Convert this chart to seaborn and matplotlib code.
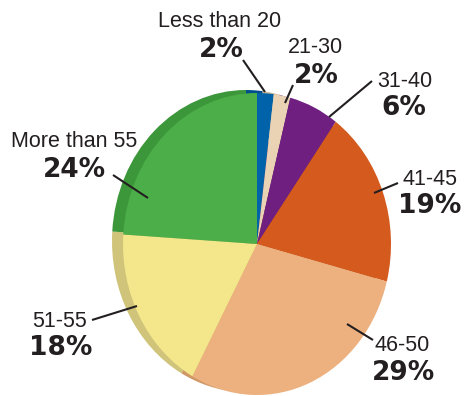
import matplotlib
matplotlib.use("Agg")
import matplotlib.pyplot as plt
import seaborn as sns
import numpy as np

# ---- data ----
categories = ["Less than 20", "21-30", "31-40", "41-45", "46-50", "51-55", "More than 55"]
shares = [2, 2, 6, 19, 29, 18, 24]
pct_labels = ["2%", "2%", "6%", "19%", "29%", "18%", "24%"]

face_colors = ["#0062A9", "#E9D3B4", "#6F1F80", "#D45A1E", "#EDB07F", "#F3E68B", "#4CAE48"]
rim_colors = ["#004F8A", "#CDB898", "#5A1868", "#B04A18", "#CF9866", "#CFC47A", "#3C963A"]

sns.set_theme(style="white")
plt.rcParams["font.family"] = ["DejaVu Sans"]

W, H = 465, 396
fig = plt.figure(figsize=(W / 100, H / 100), dpi=100)
ax = fig.add_axes([0, 0, 1, 1])

# pie face geometry in pixels
cx, cy, rx, ry = 257, 244, 134, 151


def px(x, y):
    return ((x - cx) / rx, (cy - y) / ry)


# rim (darker, slightly offset) drawn behind the face
ax.pie(shares, colors=rim_colors, startangle=90, counterclock=False,
       center=(-11 / rx, 3 / ry), radius=1.0,
       wedgeprops=dict(edgecolor="none", linewidth=0))
ax.pie(shares, colors=face_colors, startangle=90, counterclock=False,
       center=(0, 0), radius=1.0,
       wedgeprops=dict(edgecolor="none", linewidth=0))

ax.set_aspect("auto")
ax.set_xlim(-cx / rx, (W - cx) / rx)
ax.set_ylim(-(H - cy) / ry, cy / ry)
ax.axis("off")

# label layout (pixel positions: name baseline, pct baseline)
label_pos = [
    (220, 27, 221, 57),
    (315, 53, 316, 83),
    (405, 87, 404, 115),
    (430, 185, 430, 213),
    (402, 351, 403, 380),
    (60, 327, 61, 355),
    (74, 147, 74, 177),
]
leaders = [
    ((243, 60), (265, 92)),
    ((293, 85), (285, 103)),
    ((372, 81), (329, 117)),
    ((398, 183), (374, 193)),
    ((373, 340), (347, 324)),
    ((92, 320), (137, 306)),
    ((113, 175), (148, 198)),
]
txt = "#231F20"
for name, pct, (nx, ny, qx, qy), (p0, p1) in zip(categories, pct_labels, label_pos, leaders):
    ax.text(*px(nx, ny), name, ha="center", va="baseline", fontsize=15.5,
            family=["Liberation Sans", "DejaVu Sans"], color=txt)
    ax.text(*px(qx, qy), pct, ha="center", va="baseline", fontsize=19,
            fontweight="bold", family=["DejaVu Sans"], color=txt)
    a, b = px(*p0), px(*p1)
    ax.plot([a[0], b[0]], [a[1], b[1]], color=txt, lw=1.5, solid_capstyle="butt")

fig.savefig("out.png", dpi=100)
